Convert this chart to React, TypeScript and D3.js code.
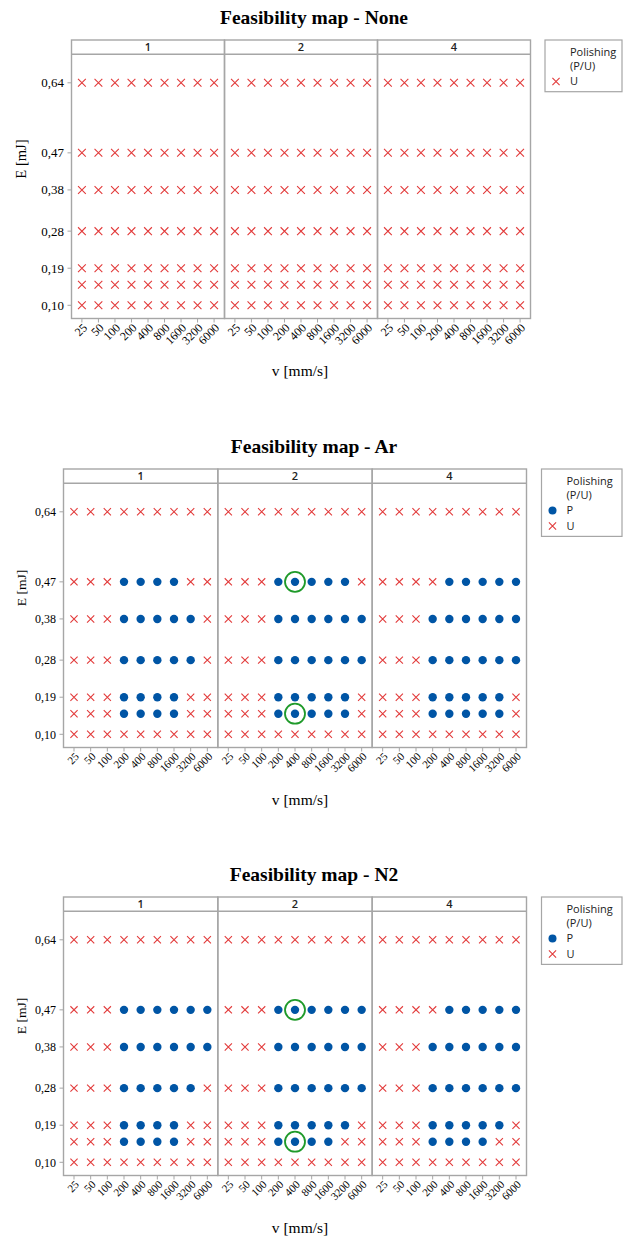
import * as d3 from "d3";

const speeds = ["25", "50", "100", "200", "400", "800", "1600", "3200", "6000"];
const energies = [0.64, 0.47, 0.38, 0.28, 0.19, 0.15, 0.1];
const energyTicks = [0.1, 0.19, 0.28, 0.38, 0.47, 0.64];
const passes = ["1", "2", "4"];
const gases = ["None", "Ar", "N2"];

// one string per energy row (same order as `energies`), one letter per speed: P = polished, U = unpolished
const none1 = ["UUUUUUUUU", "UUUUUUUUU", "UUUUUUUUU", "UUUUUUUUU", "UUUUUUUUU", "UUUUUUUUU", "UUUUUUUUU"];
const none2 = ["UUUUUUUUU", "UUUUUUUUU", "UUUUUUUUU", "UUUUUUUUU", "UUUUUUUUU", "UUUUUUUUU", "UUUUUUUUU"];
const none4 = ["UUUUUUUUU", "UUUUUUUUU", "UUUUUUUUU", "UUUUUUUUU", "UUUUUUUUU", "UUUUUUUUU", "UUUUUUUUU"];

const ar1 = ["UUUUUUUUU", "UUUPPPPUU", "UUUPPPPPU", "UUUPPPPPU", "UUUPPPPUU", "UUUPPPPUU", "UUUUUUUUU"];
const ar2 = ["UUUUUUUUU", "UUUPPPPPU", "UUUPPPPPP", "UUUPPPPPP", "UUUPPPPPU", "UUUPPPPPU", "UUUUUUUUU"];
const ar4 = ["UUUUUUUUU", "UUUUPPPPP", "UUUPPPPPP", "UUUPPPPPP", "UUUPPPPPU", "UUUPPPPPU", "UUUUUUUUU"];

const n2_1 = ["UUUUUUUUU", "UUUPPPPPP", "UUUPPPPPP", "UUUPPPPPU", "UUUPPPPUU", "UUUPPPPUU", "UUUUUUUUU"];
const n2_2 = ["UUUUUUUUU", "UUUPPPPPP", "UUUPPPPPP", "UUUPPPPPP", "UUUPPPPPU", "UUUPPPPUU", "UUUUUUUUU"];
const n2_4 = ["UUUUUUUUU", "UUUUPPPPP", "UUUPPPPPP", "UUUPPPPPP", "UUUPPPPPU", "UUUPPPPUU", "UUUUUUUUU"];

// highlighted points [gas, passes, speed, energy]
const circled: [string, string, string, number][] = [
  ["Ar", "2", "400", 0.47],
  ["Ar", "2", "400", 0.15],
  ["N2", "2", "400", 0.47],
  ["N2", "2", "400", 0.15],
];

const gasRows: Record<string, string[][]> = {
  None: [none1, none2, none4],
  Ar: [ar1, ar2, ar4],
  N2: [n2_1, n2_2, n2_4],
};

const RED = "#e23a3a";
const BLUE = "#0055a5";
const GREEN = "#1f9a2a";
const FRAME = "#a6a6a6";
const SERIF = "'Liberation Serif', 'Times New Roman', serif";
const SANS = "'Open Sans', 'Noto Sans', sans-serif";

const layouts = [
  { top: 40, left: 71.5, right: 530.5, legendLeft: 545, s: 1.08 },
  { top: 469, left: 63.5, right: 526.5, legendLeft: 541.5, s: 1 },
  { top: 897, left: 63.5, right: 526.5, legendLeft: 541.5, s: 1 },
];

function Cross({ x, y, h }: { x: number; y: number; h: number }) {
  return (
    <path
      d={`M${x - h},${y - h}L${x + h},${y + h}M${x - h},${y + h}L${x + h},${y - h}`}
      stroke={RED}
      strokeWidth={1.1}
      fill="none"
    />
  );
}

function Chart({ gas, lay }: { gas: string; lay: (typeof layouts)[number] }) {
  const { top, left, right, legendLeft, s } = lay;
  const headerBottom = top + 14.3;
  const bottom = top + 278.5;
  const y = d3.scaleLinear().domain([0.1, 0.64]).range([top + 265.3, top + 42.8]);
  const panel = d3.scaleBand().domain(passes).range([left, right]);
  const rows = gasRows[gas];
  const hasP = rows.some((r) => r.some((line) => line.includes("P")));

  const legendItems = hasP ? ["P", "U"] : ["U"];
  const legendH = 36 + legendItems.length * 15.7;

  return (
    <g>
      <text x={314} y={top - 16} textAnchor="middle" fontFamily={SERIF} fontWeight="bold" fontSize={19.5}>
        {`Feasibility map - ${gas}`}
      </text>
      <text
        transform={`translate(${26},${top + 119}) rotate(-90)`}
        textAnchor="middle"
        fontFamily={SERIF}
        fontSize={13.5 * s}
      >
        E [mJ]
      </text>
      <text x={300} y={bottom + 57} textAnchor="middle" fontFamily={SERIF} fontSize={15.5}>
        v [mm/s]
      </text>

      {/* y axis */}
      {energyTicks.map((e) => (
        <g key={e}>
          <line x1={left - 4} x2={left} y1={y(e)} y2={y(e)} stroke={FRAME} />
          <text x={left - 7.5} y={y(e)} dy="0.35em" textAnchor="end" fontFamily={SERIF} fontSize={12 * s}>
            {d3.format(".2f")(e).replace(".", ",")}
          </text>
        </g>
      ))}

      {passes.map((p, pi) => {
        const x0 = panel(p)!;
        const x1 = x0 + panel.bandwidth();
        const x = d3.scalePoint().domain(speeds).range([x0, x1]).padding(0.63);
        return (
          <g key={p}>
            <rect x={x0} y={top} width={x1 - x0} height={bottom - top} fill="none" stroke={FRAME} strokeWidth={1.4} />
            <line x1={x0} x2={x1} y1={headerBottom} y2={headerBottom} stroke={FRAME} strokeWidth={1.4} />
            <text
              x={(x0 + x1) / 2}
              y={(top + headerBottom) / 2}
              dy="0.36em"
              textAnchor="middle"
              fontFamily={SANS}
              fontWeight="600"
              fontSize={11}
              fill="#222"
            >
              {p}
            </text>
            {speeds.map((v) => (
              <g key={v}>
                <line x1={x(v)} x2={x(v)} y1={bottom} y2={bottom + 4} stroke={FRAME} />
                <text
                  transform={`translate(${x(v)! + 3},${bottom + 7}) rotate(-45)`}
                  dy="0.35em"
                  textAnchor="end"
                  fontFamily={SERIF}
                  fontSize={11 * s}
                >
                  {v}
                </text>
              </g>
            ))}
            {energies.map((e, ei) =>
              speeds.map((v, vi) => {
                const st = rows[pi][ei][vi];
                return st === "P" ? (
                  <circle key={`${e}-${v}`} cx={x(v)} cy={y(e)} r={4.2} fill={BLUE} />
                ) : (
                  <Cross key={`${e}-${v}`} x={x(v)!} y={y(e)} h={3.6 * s} />
                );
              })
            )}
            {circled
              .filter((c) => c[0] === gas && c[1] === p)
              .map((c) => (
                <circle
                  key={`${c[2]}-${c[3]}`}
                  cx={x(c[2])}
                  cy={y(c[3])}
                  r={10}
                  fill="none"
                  stroke={GREEN}
                  strokeWidth={1.8}
                />
              ))}
          </g>
        );
      })}

      {/* legend */}
      <rect x={legendLeft} y={top} width={622 - legendLeft} height={legendH} fill="none" stroke={FRAME} strokeWidth={1.2} />
      <text x={legendLeft + 25} y={top + 12} dy="0.35em" fontFamily={SANS} fontSize={11} fill="#222">
        Polishing
      </text>
      <text x={legendLeft + 25} y={top + 26.5} dy="0.35em" fontFamily={SANS} fontSize={11} fill="#222">
        (P/U)
      </text>
      {legendItems.map((k, i) => {
        const ly = top + 41.5 + i * 15.5;
        return (
          <g key={k}>
            {k === "P" ? (
              <circle cx={legendLeft + 11} cy={ly} r={4} fill={BLUE} />
            ) : (
              <Cross x={legendLeft + 11} y={ly} h={3.6} />
            )}
            <text x={legendLeft + 25} y={ly} dy="0.35em" fontFamily={SANS} fontSize={11} fill="#222">
              {k}
            </text>
          </g>
        );
      })}
    </g>
  );
}

export default function App() {
  return (
    <svg
      width={626}
      height={1241}
      style={{ position: "absolute", left: 0, top: 0, background: "#fff" }}
    >
      {gases.map((g, i) => (
        <Chart key={g} gas={g} lay={layouts[i]} />
      ))}
    </svg>
  );
}
